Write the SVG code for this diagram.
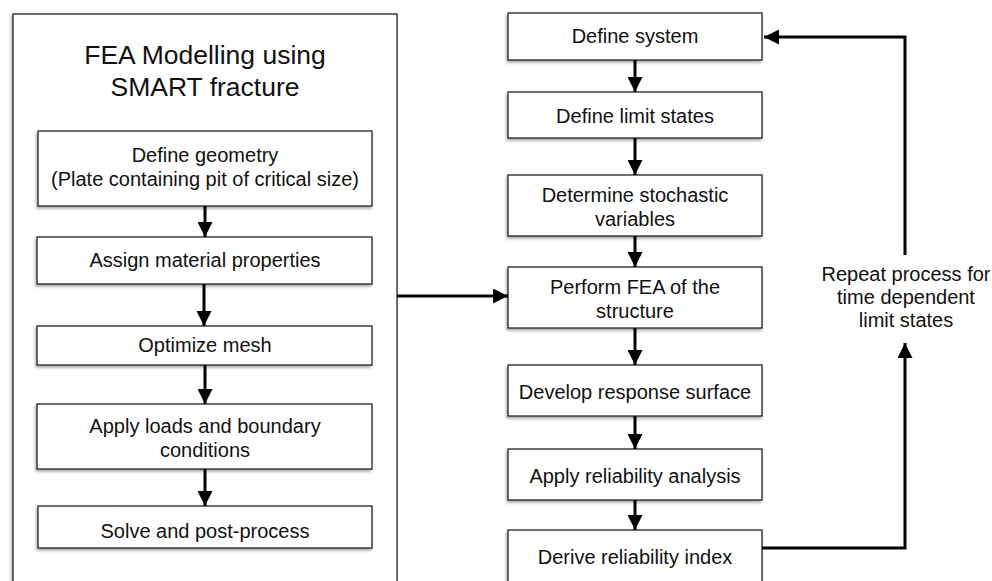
<svg xmlns="http://www.w3.org/2000/svg" width="992" height="581" viewBox="0 0 992 581">
<style>
.box{fill:#fff;stroke:#222;stroke-width:1.3;filter:url(#sh)}
.t{font-family:"Liberation Sans",Arial,sans-serif;font-size:20px;fill:#111;text-anchor:middle}
.title{font-family:"Liberation Sans",Arial,sans-serif;font-size:26.5px;fill:#111;text-anchor:middle}
.c{stroke:#000;stroke-width:3;fill:none}
</style>
<defs>
<filter id="sh" x="-10%" y="-10%" width="120%" height="130%"><feDropShadow dx="-1" dy="2" stdDeviation="1.5" flood-color="#000" flood-opacity="0.35"/></filter>
<marker id="ah" viewBox="0 0 10 10" refX="10" refY="5" markerWidth="5" markerHeight="5" orient="auto" markerUnits="strokeWidth"><path d="M0,0 L10,5 L0,10 z" fill="#000"/></marker>
</defs>
<rect width="992" height="581" fill="#fff"/>
<g id="outer"><rect class="box" x="13" y="14" width="384" height="580"/>
<text class="title" x="205" y="64">FEA Modelling using</text>
<text class="title" x="205" y="96">SMART fracture</text></g>
<g id="l1"><rect class="box" x="38" y="131" width="334" height="75"/><text class="t" x="205" y="162">Define geometry</text><text class="t" x="205" y="186">(Plate containing pit of critical size)</text></g>
<g id="l2"><rect class="box" x="37" y="237" width="335" height="47"/><text class="t" x="205" y="267">Assign material properties</text></g>
<g id="l3"><rect class="box" x="37" y="326" width="335" height="39"/><text class="t" x="205" y="352">Optimize mesh</text></g>
<g id="l4"><rect class="box" x="37" y="404" width="335" height="65"/><text class="t" x="205" y="433">Apply loads and boundary</text><text class="t" x="205" y="457">conditions</text></g>
<g id="l5"><rect class="box" x="38" y="506" width="334" height="42"/><text class="t" x="205" y="538">Solve and post-process</text></g>
<g id="r1"><rect class="box" x="508" y="13" width="254" height="47"/><text class="t" x="635" y="43">Define system</text></g>
<g id="r2"><rect class="box" x="508" y="92" width="254" height="46"/><text class="t" x="635" y="123">Define limit states</text></g>
<g id="r3"><rect class="box" x="508" y="175" width="254" height="61"/><text class="t" x="635" y="202">Determine stochastic</text><text class="t" x="635" y="226">variables</text></g>
<g id="r4"><rect class="box" x="508" y="267" width="254" height="61"/><text class="t" x="635" y="294">Perform FEA of the</text><text class="t" x="635" y="318">structure</text></g>
<g id="r5"><rect class="box" x="508" y="365" width="254" height="51"/><text class="t" x="635" y="399">Develop response surface</text></g>
<g id="r6"><rect class="box" x="508" y="449" width="254" height="51"/><text class="t" x="635" y="483">Apply reliability analysis</text></g>
<g id="r7"><rect class="box" x="508" y="530" width="254" height="60"/><text class="t" x="635" y="564">Derive reliability index</text></g>
<g id="note"><text class="t" x="906" y="281">Repeat process for</text><text class="t" x="906" y="304">time dependent</text><text class="t" x="906" y="327">limit states</text></g>
<g id="connectors">
<path class="c" marker-end="url(#ah)" d="M205,206 V237"/>
<path class="c" marker-end="url(#ah)" d="M204,284 V326"/>
<path class="c" marker-end="url(#ah)" d="M205,365 V404"/>
<path class="c" marker-end="url(#ah)" d="M205,469 V506"/>
<path class="c" marker-end="url(#ah)" d="M635,60 V92"/>
<path class="c" marker-end="url(#ah)" d="M635,138 V175"/>
<path class="c" marker-end="url(#ah)" d="M635,236 V267"/>
<path class="c" marker-end="url(#ah)" d="M635,328 V365"/>
<path class="c" marker-end="url(#ah)" d="M635,416 V449"/>
<path class="c" marker-end="url(#ah)" d="M635,500 V530"/>
<path class="c" marker-end="url(#ah)" d="M397,296 H508"/>
<path class="c" marker-end="url(#ah)" d="M762,548 H905 V343"/>
<path class="c" marker-end="url(#ah)" d="M905,255 V37 H764"/>
</g>
</svg>
